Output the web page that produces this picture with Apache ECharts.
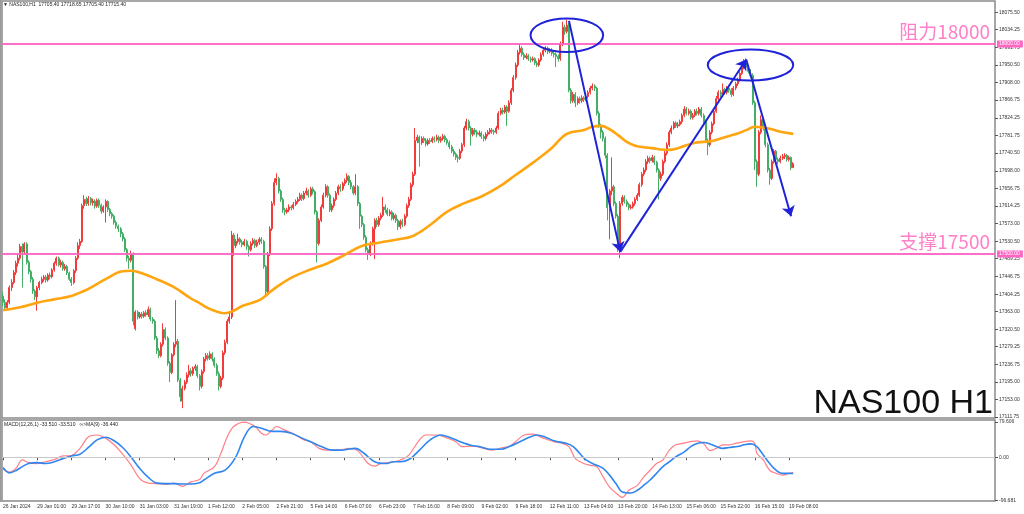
<!DOCTYPE html>
<html>
<head>
<meta charset="utf-8">
<script src="https://cdn.jsdelivr.net/npm/echarts@6/dist/echarts.min.js"></script>
<style>
html,body{margin:0;padding:0;background:#fff;}
#c{width:1024px;height:514px;}
</style>
</head>
<body>
<div id="c"></div>
<script>
// ---- data ----
const tickLabels = ['26 Jan 2024','29 Jan 01:00','29 Jan 17:00','30 Jan 10:00','31 Jan 03:00','31 Jan 19:00','1 Feb 12:00','2 Feb 05:00','2 Feb 21:00','5 Feb 14:00','6 Feb 07:00','6 Feb 23:00','7 Feb 16:00','8 Feb 09:00','9 Feb 02:00','9 Feb 18:00','12 Feb 11:00','13 Feb 04:00','13 Feb 20:00','14 Feb 13:00','15 Feb 06:00','15 Feb 22:00','16 Feb 15:00','19 Feb 08:00'];
const priceTicks = [18075.50,18034.25,17991.75,17950.50,17908.00,17866.75,17824.25,17781.75,17740.50,17698.00,17656.75,17614.25,17573.00,17530.50,17489.25,17446.75,17404.25,17363.00,17320.50,17279.25,17236.75,17195.00,17153.00,17111.75];
const macdTicks = [79.606, 0, -96.681];
// [open, close, low, high] per hourly bar
const candles = [
[17400,17385,17375,17410],[17385,17372,17365,17392],[17372,17385,17368,17390],[17385,17420,17380,17425],[17420,17432,17412,17440],
[17432,17456,17428,17462],[17456,17478,17450,17484],[17478,17490,17470,17500],[17490,17518,17485,17524],[17518,17505,17420,17525],
[17505,17524,17498,17528],[17524,17480,17475,17528],[17480,17458,17452,17485],[17458,17440,17432,17462],[17440,17412,17405,17445],
[17412,17398,17390,17416],[17398,17420,17365,17424],[17420,17432,17414,17436],[17432,17440,17428,17446],[17440,17445,17434,17450],
[17445,17438,17432,17450],[17438,17450,17434,17454],[17450,17446,17440,17456],[17446,17462,17442,17466],[17462,17478,17458,17482],
[17478,17490,17472,17494],[17490,17474,17470,17494],[17474,17480,17468,17486],[17480,17465,17460,17484],[17465,17470,17460,17476],
[17470,17455,17450,17474],[17455,17440,17436,17458],[17440,17432,17424,17445],[17432,17460,17428,17464],[17460,17490,17455,17495],
[17490,17520,17486,17528],[17520,17530,17512,17536],[17530,17615,17526,17620],[17615,17630,17608,17640],[17630,17620,17614,17636],
[17620,17632,17615,17638],[17632,17622,17616,17636],[17622,17626,17615,17632],[17626,17614,17608,17630],[17614,17628,17610,17632],
[17628,17616,17610,17632],[17616,17602,17596,17620],[17602,17612,17598,17616],[17612,17625,17575,17630],[17625,17606,17600,17628],
[17606,17596,17590,17610],[17596,17590,17584,17600],[17590,17575,17570,17594],[17575,17566,17560,17580],[17566,17560,17552,17570],
[17560,17548,17540,17564],[17548,17536,17530,17552],[17536,17510,17505,17540],[17510,17490,17482,17514],[17490,17485,17465,17496],
[17485,17500,17480,17508],[17500,17340,17330,17504],[17322,17362,17318,17366],[17362,17350,17344,17366],[17350,17357,17346,17362],
[17357,17352,17346,17362],[17352,17360,17348,17364],[17360,17355,17350,17366],[17355,17368,17350,17375],[17368,17345,17340,17372],
[17345,17340,17334,17350],[17340,17300,17295,17344],[17300,17270,17262,17305],[17270,17258,17252,17276],[17258,17285,17254,17290],
[17285,17320,17280,17335],[17320,17300,17295,17325],[17300,17240,17234,17304],[17240,17218,17195,17245],[17218,17260,17214,17264],
[17260,17285,17256,17290],[17285,17292,17278,17390],[17292,17200,17195,17298],[17200,17160,17148,17205],[17150,17180,17133,17186],
[17180,17195,17175,17200],[17195,17212,17190,17218],[17212,17222,17206,17236],[17222,17215,17208,17228],[17215,17228,17210,17232],
[17228,17232,17222,17238],[17232,17210,17205,17236],[17210,17185,17175,17214],[17185,17220,17180,17225],[17220,17250,17215,17255],
[17250,17258,17244,17264],[17258,17252,17246,17264],[17252,17262,17248,17268],[17262,17250,17244,17266],[17250,17235,17230,17254],
[17235,17215,17210,17240],[17215,17185,17175,17220],[17185,17205,17180,17210],[17205,17265,17200,17270],[17265,17290,17260,17296],
[17290,17340,17285,17345],[17340,17350,17334,17360],[17350,17545,17345,17555],[17545,17520,17495,17550],[17520,17530,17514,17536],
[17530,17536,17525,17548],[17536,17528,17522,17540],[17528,17522,17516,17534],[17522,17530,17518,17536],[17530,17518,17510,17534],
[17518,17510,17494,17522],[17510,17525,17506,17530],[17525,17532,17520,17538],[17532,17520,17514,17536],[17520,17528,17516,17534],
[17528,17535,17522,17540],[17535,17530,17524,17540],[17530,17470,17465,17534],[17470,17410,17398,17474],[17410,17500,17405,17505],
[17500,17560,17495,17566],[17560,17620,17555,17626],[17620,17670,17615,17680],[17670,17680,17664,17692],[17680,17650,17644,17684],
[17650,17630,17624,17654],[17630,17605,17598,17634],[17605,17600,17592,17610],[17600,17605,17596,17610],[17605,17612,17600,17618],
[17612,17610,17604,17616],[17610,17618,17606,17624],[17618,17625,17614,17630],[17625,17630,17620,17636],[17630,17640,17626,17646],
[17640,17632,17626,17644],[17632,17645,17628,17650],[17645,17650,17640,17658],[17650,17640,17634,17654],[17640,17655,17636,17660],
[17655,17648,17642,17660],[17648,17600,17594,17652],[17600,17525,17480,17604],[17525,17580,17520,17585],[17580,17612,17576,17618],
[17612,17640,17608,17646],[17640,17660,17635,17666],[17660,17640,17634,17664],[17640,17605,17600,17644],[17605,17615,17600,17620],
[17615,17630,17610,17635],[17630,17645,17626,17650],[17645,17660,17640,17665],[17660,17655,17648,17666],[17655,17668,17650,17672],
[17668,17675,17662,17680],[17675,17685,17670,17692],[17685,17670,17664,17688],[17670,17660,17654,17676],[17660,17645,17640,17664],
[17645,17660,17640,17690],[17660,17620,17614,17664],[17620,17590,17560,17624],[17590,17570,17564,17594],[17570,17540,17534,17574],
[17540,17510,17504,17545],[17510,17500,17486,17515],[17500,17525,17495,17530],[17525,17560,17520,17565],[17560,17580,17488,17585],
[17580,17570,17564,17586],[17570,17585,17565,17590],[17585,17592,17580,17598],[17592,17612,17588,17636],[17612,17605,17598,17618],
[17605,17595,17590,17610],[17595,17600,17590,17606],[17600,17585,17580,17604],[17585,17592,17580,17598],[17592,17580,17574,17596],
[17580,17565,17557,17584],[17565,17578,17560,17582],[17578,17570,17564,17584],[17570,17590,17566,17595],[17590,17615,17586,17620],
[17615,17630,17610,17636],[17630,17665,17626,17670],[17665,17690,17660,17696],[17690,17770,17686,17800],[17770,17778,17764,17784],
[17778,17765,17708,17782],[17765,17775,17760,17780],[17775,17770,17764,17780],[17770,17762,17756,17776],[17762,17770,17758,17775],
[17770,17768,17762,17776],[17768,17775,17764,17780],[17775,17772,17766,17780],[17772,17778,17768,17784],[17778,17770,17764,17782],
[17770,17775,17765,17780],[17775,17780,17770,17786],[17780,17772,17766,17784],[17772,17765,17760,17776],[17765,17755,17750,17770],
[17755,17745,17740,17760],[17745,17738,17732,17750],[17738,17730,17724,17742],[17730,17728,17718,17736],[17728,17745,17724,17750],
[17745,17760,17740,17765],[17760,17800,17755,17805],[17800,17815,17795,17822],[17815,17800,17794,17820],[17800,17785,17758,17804],
[17785,17795,17780,17800],[17795,17790,17784,17800],[17790,17785,17778,17795],[17785,17788,17780,17794],[17788,17780,17774,17792],
[17780,17775,17768,17785],[17775,17785,17770,17790],[17785,17790,17780,17795],[17790,17795,17785,17800],[17795,17792,17786,17800],
[17792,17790,17784,17796],[17790,17800,17786,17805],[17800,17835,17796,17840],[17835,17842,17830,17848],[17842,17838,17832,17848],
[17838,17850,17834,17855],[17850,17840,17805,17854],[17840,17860,17836,17866],[17860,17890,17855,17895],[17890,17920,17885,17926],
[17920,17950,17915,17956],[17950,17980,17945,17986],[17980,17990,17975,18000],[17990,17975,17970,17995],[17975,17968,17962,17980],
[17968,17972,17964,17978],[17972,17965,17960,17976],[17965,17962,17956,17970],[17962,17965,17958,17970],[17965,17955,17950,17968],
[17955,17950,17945,17960],[17950,17962,17946,17966],[17962,17975,17958,17980],[17975,17985,17970,17990],[17985,17990,17980,17995],
[17990,17982,17976,17994],[17982,17985,17978,17990],[17985,17978,17972,17990],[17978,17975,17968,17982],[17975,17970,17945,17980],
[17970,17965,17958,17975],[17965,18000,17960,18006],[18000,18040,17995,18053],[18040,18030,18022,18046],[18030,18045,18025,18058],
[18045,17890,17885,18050],[17890,17865,17858,17895],[17865,17880,17860,17886],[17880,17860,17850,17885],[17860,17870,17855,17875],
[17870,17865,17858,17875],[17865,17872,17860,17878],[17872,17868,17862,17876],[17868,17875,17864,17880],[17875,17885,17870,17890],
[17885,17895,17880,17900],[17895,17900,17890,17906],[17900,17895,17888,17904],[17895,17835,17830,17898],[17835,17805,17800,17840],
[17805,17790,17775,17810],[17790,17775,17768,17795],[17775,17735,17728,17780],[17735,17610,17580,17740],[17610,17650,17535,17655],
[17650,17660,17640,17730],[17660,17620,17614,17665],[17620,17590,17584,17625],[17590,17520,17505,17595],[17520,17620,17490,17626],
[17620,17635,17615,17640],[17635,17625,17620,17640],[17625,17618,17612,17630],[17618,17610,17604,17622],[17610,17612,17606,17618],
[17612,17620,17608,17625],[17620,17630,17615,17635],[17630,17640,17626,17645],[17640,17665,17636,17670],[17665,17690,17660,17695],
[17690,17700,17685,17706],[17700,17720,17695,17726],[17720,17728,17714,17734],[17728,17722,17716,17732],[17722,17730,17718,17736],
[17730,17718,17712,17734],[17718,17700,17694,17722],[17700,17680,17630,17704],[17680,17690,17674,17696],[17690,17720,17686,17725],
[17720,17740,17716,17745],[17740,17760,17735,17766],[17760,17790,17755,17795],[17790,17800,17785,17806],[17800,17812,17796,17816],
[17812,17805,17800,17816],[17805,17808,17800,17814],[17808,17815,17804,17820],[17815,17830,17810,17835],[17830,17845,17826,17852],
[17845,17835,17830,17850],[17835,17840,17830,17846],[17840,17825,17820,17844],[17825,17830,17820,17836],[17830,17840,17826,17845],
[17840,17835,17830,17846],[17835,17845,17830,17850],[17845,17830,17825,17850],[17830,17815,17810,17835],[17815,17770,17765,17820],
[17770,17760,17735,17775],[17760,17790,17755,17795],[17790,17810,17785,17815],[17810,17840,17806,17845],[17840,17870,17836,17876],
[17870,17885,17865,17890],[17885,17880,17874,17890],[17880,17892,17876,17906],[17892,17885,17880,17896],[17885,17895,17880,17900],
[17895,17890,17884,17900],[17890,17880,17874,17895],[17880,17895,17876,17900],[17895,17905,17890,17910],[17905,17915,17900,17920],
[17915,17930,17910,17935],[17930,17945,17926,17955],[17945,17958,17940,17964],[17958,17945,17940,17966],[17945,17935,17930,17950],
[17935,17925,17920,17940],[17925,17860,17855,17930],[17860,17720,17700,17865],[17720,17690,17660,17725],[17690,17790,17685,17795],
[17790,17820,17785,17830],[17820,17800,17794,17825],[17800,17760,17754,17805],[17760,17700,17694,17765],[17700,17680,17665,17705],
[17680,17720,17676,17725],[17720,17745,17715,17750],[17745,17725,17720,17748],[17725,17720,17714,17730],[17720,17728,17716,17734],
[17728,17732,17724,17738],[17732,17735,17726,17740],[17735,17725,17720,17738],[17725,17730,17720,17734],[17730,17705,17700,17732],
[17705.40,17715.40,17705.40,17718.65]
];
// moving average read at sample bars: [bar, price]
const maLine = [[0,17366],[8,17373],[16,17384],[24,17392],[32,17400],[36,17408],[40,17417],[48,17440],[56,17459],[60,17460],[64,17456],[72,17440],[80,17421],[88,17394],[92,17383],[96,17371],[100,17363],[104,17359],[108,17365],[112,17376],[120,17390],[124,17405],[128,17421],[136,17446],[144,17463],[152,17478],[160,17498],[168,17519],[176,17527],[184,17534],[192,17543],[200,17569],[208,17601],[216,17621],[224,17637],[232,17659],[240,17688],[248,17717],[256,17748],[264,17786],[272,17795],[276,17803],[280,17805],[284,17797],[288,17783],[292,17767],[296,17758],[300,17754],[304,17752],[308,17749],[312,17748],[316,17752],[320,17759],[324,17765],[328,17767],[332,17769],[336,17775],[340,17781],[344,17787],[348,17795],[352,17803],[356,17801],[360,17797],[364,17791],[370,17786]];
// MACD main line (red) and its MA(9) (blue): [bar, value]
const macdMain = [[0,-27],[3,-33],[6,-25],[9,-6],[12,-12],[16,-14],[20,-10],[24,-5],[28,3],[32,4],[36,20],[40,46],[44,50],[48,43],[52,28],[56,7],[60,-18],[64,-48],[68,-58],[72,-59],[76,-61],[80,-58],[84,-65],[88,-55],[92,-50],[94,-36],[99,-21],[102,9],[105,46],[108,69],[113,79],[118,69],[121,54],[123,50],[126,61],[128,69],[132,61],[137,50],[141,39],[144,35],[148,20],[152,16],[157,16],[162,20],[166,15],[171,-14],[174,-20],[177,-14],[183,-10],[186,-6],[190,5],[195,39],[198,50],[203,50],[208,43],[212,35],[215,24],[220,25],[225,20],[229,16],[234,22],[237,24],[240,35],[244,50],[248,52],[253,43],[258,35],[262,31],[265,24],[268,-3],[272,-14],[275,-18],[278,-21],[281,-44],[284,-67],[287,-80],[290,-90],[293,-74],[297,-63],[300,-44],[303,-29],[306,-14],[309,-6],[312,16],[315,28],[318,31],[322,35],[325,37],[328,31],[331,15],[334,20],[337,28],[340,28],[343,31],[347,35],[350,37],[352,31],[353,9],[356,-6],[359,-29],[362,-36],[365,-40],[368,-36],[370,-33.51]];
const macdSignal = [[0,-23],[3,-35],[6,-30],[9,-21],[12,-14],[16,-12],[20,-14],[24,-10],[28,-3],[32,3],[36,7],[40,22],[44,39],[48,45],[52,37],[56,22],[60,0],[64,-25],[68,-45],[72,-58],[76,-59],[80,-59],[84,-60],[88,-60],[92,-57],[94,-51],[99,-36],[104,-29],[109,1],[113,46],[117,69],[121,65],[126,58],[130,58],[135,54],[140,43],[144,35],[149,24],[154,16],[158,16],[165,20],[169,9],[174,-10],[179,-14],[183,-10],[186,-10],[190,-5],[195,16],[200,39],[205,50],[209,45],[214,35],[219,27],[223,24],[228,18],[233,18],[237,24],[242,35],[247,46],[250,50],[254,45],[258,37],[264,31],[267,24],[270,9],[273,-6],[277,-16],[281,-25],[284,-40],[287,-59],[290,-78],[294,-80],[297,-74],[300,-63],[303,-51],[306,-36],[309,-21],[312,-10],[315,1],[319,12],[322,24],[325,31],[328,33],[331,30],[334,24],[337,20],[340,22],[344,24],[347,28],[350,30],[353,24],[356,5],[359,-14],[362,-29],[365,-36],[368,-36],[370,-36.44]];
// annotations
const levels = {resistance: 18000, support: 17500, last: 17715.40};
const ellipses = [[264, 18021, 17, 40], [350, 17950, 20, 37]]; // [centerBar, centerPrice, halfWidthBars, halfHeightPrice]
const arrows = [[[265,18055],[289,17505]], [[289,17505],[348,17963]], [[348,17963],[369,17590]]];

// ---- chart ----
const BAR_SLOTS = 465;
const categories = Array.from({length: BAR_SLOTS}, (_, i) => String(i));
const showTick = (i) => i % 16 === 0 && i / 16 < tickLabels.length;
const PINK = '#ff66c4', PINK_TXT = '#ff80c8', BLUE = '#1e22d8';
const chart = echarts.init(document.getElementById('c'), null, {renderer: 'canvas'});
const fontF = 'Liberation Sans, Arial, sans-serif';

chart.setOption({
  animation: false,
  backgroundColor: '#ffffff',
  textStyle: {fontFamily: fontF},
  grid: [
    {left: 2, top: 1, right: 29, height: 417, show: true, borderColor: '#8a8a8a', borderWidth: 1.5, backgroundColor: '#fff'},
    {left: 2, top: 420, right: 29, height: 81, show: true, borderColor: '#8a8a8a', borderWidth: 1.5, backgroundColor: '#fff'}
  ],
  xAxis: [
    {type: 'category', gridIndex: 0, data: categories, boundaryGap: true, show: false},
    {type: 'category', gridIndex: 1, data: categories, boundaryGap: true,
     axisLine: {show: false},
     axisTick: {show: true, alignWithLabel: true, length: 3, interval: (i) => showTick(i), lineStyle: {color: '#555'}},
     axisLabel: {show: true, interval: (i) => showTick(i), align: 'left', margin: 3, fontSize: 5, color: '#333',
       formatter: (v, i) => showTick(i) ? tickLabels[i / 16] : ''}}
  ],
  yAxis: [
    {type: 'value', gridIndex: 0, position: 'right', min: 17109.5, max: 18102.4, scale: true,
     splitLine: {show: false}, axisLine: {show: false},
     axisTick: {show: true, length: 3, customValues: priceTicks, lineStyle: {color: '#555'}},
     axisLabel: {show: true, customValues: priceTicks, fontSize: 5, color: '#333', margin: 4, formatter: (v) => Number(v).toFixed(2)}},
    {type: 'value', gridIndex: 1, position: 'right', min: -98, max: 83.6,
     splitLine: {show: false}, axisLine: {show: false},
     axisTick: {show: true, length: 3, customValues: macdTicks, lineStyle: {color: '#555'}},
     axisLabel: {show: true, customValues: macdTicks, fontSize: 5, color: '#333', margin: 4,
       formatter: (v) => Number(v) === 0 ? '0.00' : Number(v).toFixed(3)}}
  ],
  series: [
    {type: 'candlestick', xAxisIndex: 0, yAxisIndex: 0, data: candles, barWidth: 1.5, z: 2,
     itemStyle: {color: '#f23b3b', color0: '#44ad66', borderColor: '#f23b3b', borderColor0: '#44ad66', borderWidth: 1}},
    {type: 'line', xAxisIndex: 0, yAxisIndex: 0, data: maLine, smooth: 0.4, showSymbol: false, z: 4,
     lineStyle: {color: '#ffa510', width: 2.6},
     markLine: {silent: true, symbol: 'none', animation: false, z: 3,
       data: [
         {yAxis: levels.resistance, lineStyle: {color: PINK, width: 1.5, type: 'solid'},
          label: {show: true, position: 'insideEndTop', distance: [5, 3], formatter: '阻力18000', fontSize: 19, color: PINK_TXT, fontFamily: 'Noto Sans CJK SC'}},
         {yAxis: levels.support, lineStyle: {color: PINK, width: 1.5, type: 'solid'},
          label: {show: true, position: 'insideEndTop', distance: [5, 3], formatter: '支撑17500', fontSize: 19, color: PINK_TXT, fontFamily: 'Noto Sans CJK SC'}},
         {yAxis: levels.resistance, lineStyle: {color: PINK, width: 1.5, type: 'solid'},
          label: {show: true, position: 'end', distance: 2, formatter: (p) => Number(p.value).toFixed(2), fontSize: 5, color: '#fff', backgroundColor: PINK, padding: [1, 3, 1, 2]}},
         {yAxis: levels.support, lineStyle: {color: PINK, width: 1.5, type: 'solid'},
          label: {show: true, position: 'end', distance: 2, formatter: (p) => Number(p.value).toFixed(2), fontSize: 5, color: '#fff', backgroundColor: PINK, padding: [1, 3, 1, 2]}},
         {yAxis: levels.last, lineStyle: {opacity: 0},
          label: {show: true, position: 'end', distance: 2, formatter: (p) => Number(p.value).toFixed(2), fontSize: 5, color: '#fff', backgroundColor: '#000', padding: [1, 3, 1, 2]}}
       ]}},
    {type: 'custom', xAxisIndex: 0, yAxisIndex: 0, data: ellipses, z: 6, clip: false,
     encode: {x: 0, y: 1},
     renderItem: (params, api) => {
       const c = api.coord([api.value(0), api.value(1)]);
       const e = api.coord([api.value(0) + api.value(2), api.value(1) + api.value(3)]);
       return {type: 'ellipse', shape: {cx: c[0], cy: c[1], rx: Math.abs(e[0] - c[0]), ry: Math.abs(c[1] - e[1])},
               style: {fill: 'none', stroke: BLUE, lineWidth: 2}};
     },
     markLine: {silent: true, animation: false, symbol: ['none', 'arrow'], symbolSize: 10, z: 6,
       label: {show: false},
       lineStyle: {color: BLUE, width: 2, type: 'solid'},
       itemStyle: {color: BLUE},
       data: arrows.map(a => [{coord: a[0]}, {coord: a[1]}])}},
    {type: 'line', xAxisIndex: 1, yAxisIndex: 1, data: macdMain, smooth: 0.35, showSymbol: false, z: 3,
     lineStyle: {color: '#ff7f86', width: 1.2},
     markLine: {silent: true, symbol: 'none', animation: false, label: {show: false},
       lineStyle: {color: '#c8c8c8', width: 1, type: 'solid'}, data: [{yAxis: 0}]}},
    {type: 'line', xAxisIndex: 1, yAxisIndex: 1, data: macdSignal, smooth: 0.35, showSymbol: false, z: 4,
     lineStyle: {color: '#2f86f0', width: 1.6}}
  ],
  graphic: [
    {type: 'rect', left: 0, top: 0, z: 20, silent: true, shape: {width: 1.5, height: 502}, style: {fill: '#9a9a9a'}},
    {type: 'text', left: 3, top: 2, z: 10, style: {text: '▼ NAS100,H1  17705.40 17718.65 17705.40 17715.40', fontSize: 5, fill: '#222', fontFamily: fontF}},
    {type: 'text', left: 4, top: 422, z: 10, style: {text: 'MACD(12,26,1) -33.510 -33.510   ∞>MA(9) -36.440', fontSize: 5, fill: '#222', fontFamily: fontF}},
    {type: 'text', x: 993, y: 404, z: 10, style: {text: 'NAS100 H1', fontSize: 34, fill: '#111', fontFamily: fontF, align: 'right', verticalAlign: 'middle'}}
  ]
});
</script>
</body>
</html>
